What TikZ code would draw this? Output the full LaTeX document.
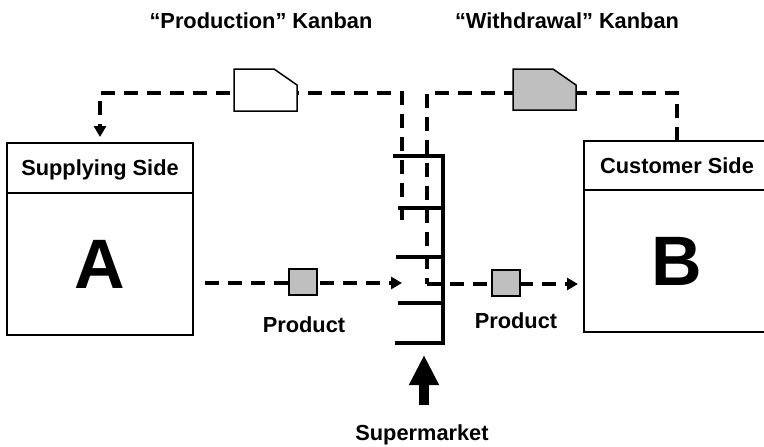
\documentclass[tikz,border=0pt]{standalone}
\usepackage{fontspec}
\setmainfont{Liberation Sans}
\usetikzlibrary{arrows.meta}

\tikzset{
  kanban/.style={line width=3.5pt, dash pattern=on 14pt off 9pt},
  shelf/.style={line width=3.5pt},
  card/.style={draw=black, line width=1.5pt},
  sidebox/.style={draw, line width=1.6pt, minimum width=186pt, inner sep=0pt, outer sep=0pt},
  label/.style={font=\bfseries\fontsize{21.8}{26}\selectfont},
  bigletter/.style={font=\bfseries\fontsize{70}{70}\selectfont},
  parcel/.style={draw, line width=1.5pt, fill=gray!50, minimum width=28pt, minimum height=26pt, inner sep=0pt},
  tip/.style={-{Triangle[length=11pt,width=12pt]}},
}

\begin{document}
\begin{tikzpicture}[x=1pt,y=-1pt]
    \useasboundingbox (0,0) rectangle (764,447);

    % supplying and customer sides
    \node[sidebox, label, minimum height=50pt, text height=15pt, text depth=0pt] (hdrA) at (100,168) {Supplying Side};
    \node[sidebox, bigletter, minimum height=142pt, anchor=north] (boxA) at (hdrA.south) {A};
    \node[sidebox, label, minimum height=49pt, text height=15pt, text depth=0pt] (hdrB) at (677,165.5) {Customer Side};
    \node[sidebox, bigletter, minimum height=142pt, anchor=north] (boxB) at (hdrB.south) {B};

    % supermarket shelves
    \coordinate (smtop) at (443,156);
    \coordinate (smbot) at (443,343);
    \draw[shelf] (393,156) -- (smtop) -- (smbot) -- (395,343);
    \foreach \y/\x in {208/398, 257/396, 303/398}
        \draw[shelf] (\x,\y) -- (443,\y);

    % kanban loops
    \coordinate (pk) at (402,220);
    \coordinate (wk) at (427,284);
    \draw[kanban, tip] (pk) -- (402,93) -| ([yshift=6pt]hdrA.north);
    \draw[kanban] (hdrB.north) |- (427,93) -- (wk);

    % product flow
    \coordinate (outA) at (205,283);
    \coordinate (smin) at (402,283);
    \draw[kanban, tip] (outA) -- (smin);
    \draw[kanban, tip, shorten >=6pt] (wk) -- (wk -| boxB.west);

    % kanban cards
    \filldraw[card, fill=white] (234,69) -- (274,69) -- (297,85) -- (297,111) -- (234,111) -- cycle;
    \filldraw[card, fill=gray!50] (513,69) -- (553,69) -- (576,85) -- (576,110) -- (513,110) -- cycle;

    % products
    \node[parcel] (prodA) at (303,282) {};
    \node[parcel] (prodB) at (506,283) {};

    % labels
    \node[label] (prodttl) at (261,21) {“Production” Kanban};
    \node[label] (wdrttl) at (567,21) {“Withdrawal” Kanban};
    \node[label] (prodAlbl) at (304,324.5) {Product};
    \node[label] (prodBlbl) at (516,320.5) {Product};

    \coordinate (smarrow) at (424,405);
    \draw[line width=10pt, -{Triangle[length=30pt,width=28pt]}] (smarrow) -- (424,355);
    \node[label, anchor=base] (smlbl) at (422,440) {Supermarket};
\end{tikzpicture}
\end{document}
